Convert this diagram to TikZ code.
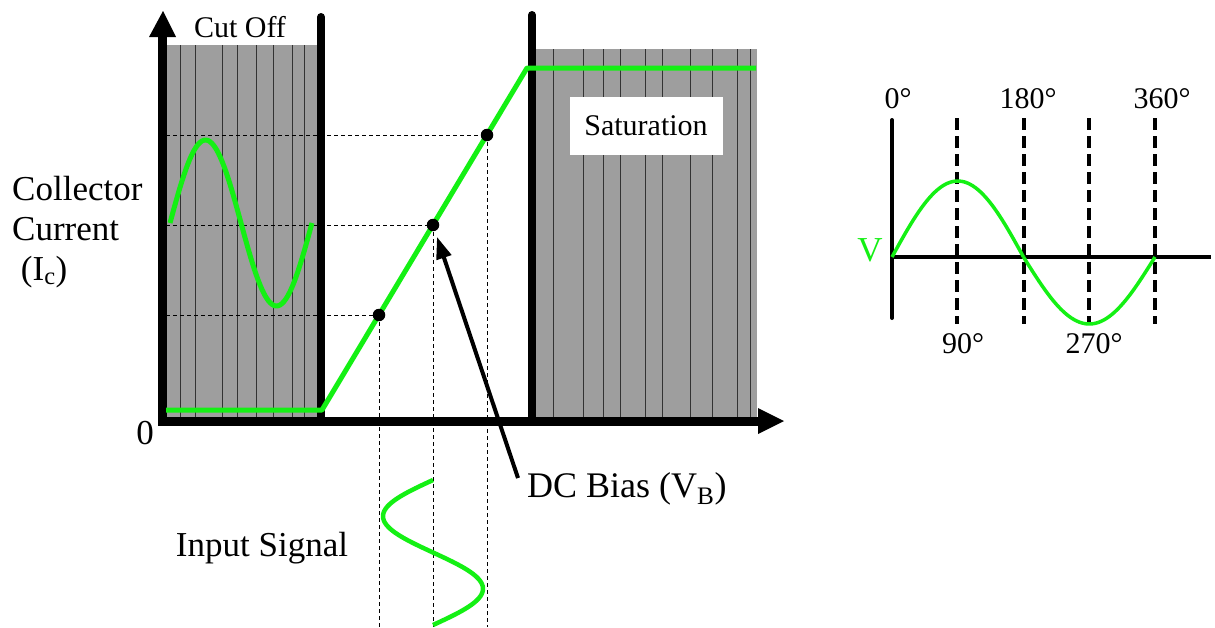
\documentclass[tikz,border=0pt]{standalone}
\usepackage{fontspec}
\setmainfont{LiberationSerif}[Extension=.ttf, UprightFont=*-Regular, BoldFont=*-Bold, ItalicFont=*-Italic, BoldItalicFont=*-BoldItalic]
\usetikzlibrary{arrows.meta}
\definecolor{sig}{RGB}{20,240,20}
\definecolor{shadegray}{RGB}{158,158,158}
\begin{document}
\begin{tikzpicture}[x=1pt,y=-1pt,
  bar/.style={line width=8pt, line cap=round},
  shadebox/.style={fill=shadegray},
  texline/.style={line width=0.6pt, black!80},
  sigline/.style={line width=5pt, sig, line join=round},
  thinsig/.style={line width=4.5pt, sig, line join=round},
  guide/.style={line width=1pt, dash pattern=on 4pt off 3pt},
  bigdash/.style={line width=4pt, dash pattern=on 12pt off 6pt},
  dot/.style={circle, fill=black, inner sep=0pt, minimum size=12.5pt},
  lbl/.style={inner sep=0pt, font=\fontsize{35}{40}\selectfont},
  smlbl/.style={inner sep=0pt, font=\fontsize{30}{34}\selectfont},
  pointer/.style={line width=4pt, -{Triangle[length=22pt,width=15pt]}}
]
\useasboundingbox (0,0) rectangle (1215,627);
\fill[white] (0,0) rectangle (1215,627);

% shaded regions
\fill[shadebox] (166,45) rectangle (318,417);
\foreach \x in {180,195,222,237,256,273,292,304}
  \draw[texline] (\x,45) -- (\x,417);
\fill[shadebox] (536,49) rectangle (757,417);
\foreach \x in {553,583,603,620,645,662,690,712,737,750}
  \draw[texline] (\x,49) -- (\x,417);

% saturation label box
\node[smlbl, fill=white, minimum width=153pt, minimum height=58pt] (sat) at (646,126) {Saturation};

% dashed guides
\coordinate (d1) at (379,315);
\coordinate (d2) at (433,225);
\coordinate (d3) at (487,135);
\draw[guide] (166,315) -- (d1);
\draw[guide] (166,225) -- (d2);
\draw[guide] (166,135) -- (d3);
\draw[guide] (d1) -- (379,627);
\draw[guide] (d2) -- (433,627);
\draw[guide] (d3) -- (487,627);

% vertical bars
\draw[bar] (321,17) -- (321,417);
\draw[bar] (532,15) -- (532,417);

% axes
\draw[line width=9pt] (162,421) -- (162,34);
\fill (149,37) -- (163,11) -- (176,37) -- cycle;
\draw[line width=9pt] (158,421) -- (760,421);
\fill (758,408) -- (784,421) -- (758,434) -- cycle;
\fill (157.5,416) rectangle (166.5,425.5);

% transfer characteristic
\draw[sigline] (166,410) -- (322,410) -- (527,68) -- (756,68);

% dots
\node[dot] (p1) at (d1) {};
\node[dot] (p2) at (d2) {};
\node[dot] (p3) at (d3) {};

% output sine in cut-off region
\draw[sigline] plot[domain=0:360, samples=72] ({170+0.39444*\x},{223-83*sin(\x)});

% input signal
\draw[thinsig] plot[domain=0:360, samples=72] ({433-50*sin(\x)},{480+0.40278*\x});

% labels
\node[smlbl] (cut) at (240,27) {Cut Off};
\node[lbl, align=left, anchor=north west] (cc) at (12,176) {Collector\\Current\\\hspace{0.25em}(I\textsubscript{c})};
\node[lbl] (zero) at (145,433) {0};
\node[lbl] (inp) at (262,548) {Input Signal};
\node[lbl, font=\fontsize{36}{40}\selectfont, anchor=base west] (dcb) at (527,497) {DC Bias (V\textsubscript{B})};
\coordinate (dctail) at (518,478);
\draw[pointer, shorten >=6pt] (dctail) -- (p2);

% right sine diagram
\draw[line width=4pt, line cap=round] (892,120) -- (892,318);
\draw[line width=4pt] (892,257) -- (1211,257);
\foreach \x in {957,1024,1089,1155}
  \draw[bigdash] (\x,118) -- (\x,324);
\draw[line width=3.5pt, sig] plot[domain=0:180, samples=50] ({892+0.73056*\x},{257-76*sin(\x)});
\draw[line width=3.5pt, sig] plot[domain=180:360, samples=50] ({892+0.73056*\x},{257-67*sin(\x)});
\node[lbl, text=sig] (v) at (870,250) {V};
\node[smlbl] (a0) at (898,99) {0°};
\node[smlbl] (a180) at (1028,99) {180°};
\node[smlbl] (a360) at (1162,99) {360°};
\node[smlbl] (a90) at (963,344) {90°};
\node[smlbl] (a270) at (1094,344) {270°};
\end{tikzpicture}
\end{document}
